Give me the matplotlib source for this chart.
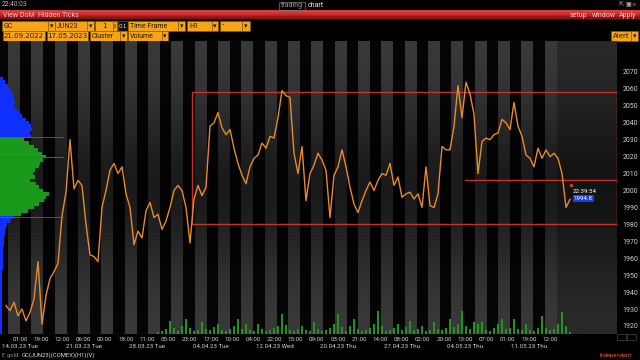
import matplotlib.pyplot as plt
import numpy as np
from matplotlib.patches import Rectangle
import matplotlib.transforms as mtransforms

plt.rcParams['font.family'] = ['Roboto', 'DejaVu Sans']

price = [1932, 1929, 1934, 1926, 1930, 1923, 1928, 1936, 1958, 1921,
         1938, 1948, 1952, 1957, 1985, 1999, 2030, 2001, 2006, 2003,
         1980, 1962, 1961, 1958, 1990, 2000, 2012, 2016, 2010, 2014,
         1998, 1990, 1968, 1976, 1972, 1988, 1993, 1984, 1986, 1977,
         1982, 1990, 2000, 2003, 2000, 1990, 1969, 1995, 2003, 1997,
         2002, 2038, 2040, 2046, 2037, 2033, 2036, 2025, 2016, 2009,
         2004, 2014, 2019, 2021, 2028, 2025, 2032, 2031, 2043, 2059,
         2056, 2055, 2022, 2010, 2026, 1994, 2010, 2015, 2022, 2018,
         2012, 1984, 2009, 2014, 2024, 2014, 2002, 1992, 1987, 1994,
         2000, 2005, 2000, 2006, 2010, 2009, 2016, 2003, 2008, 1996,
         1998, 1999, 1995, 1998, 1990, 2014, 1991, 1990, 1998, 2026,
         2024, 2024, 2038, 2062, 2043, 2064, 2057, 2045, 2010, 2029,
         2031, 2030, 2033, 2034, 2042, 2040, 2036, 2052, 2038, 2032,
         2021, 2019, 2014, 2025, 2019, 2024, 2020, 2022, 2019, 2010,
         1990, 1994.8]

volume = [0] * 38 + [
    2, 3, 5, 13, 6, 3, 8, 15, 6, 3, 4, 12, 5, 4, 7, 10, 4, 3, 5, 8,
    15, 5, 10, 4, 3, 10, 5, 3, 4, 6, 8, 20, 9, 4, 3, 5, 8, 4, 3, 12,
    5, 3, 4, 6, 10, 20, 7, 3, 8, 15, 5, 3, 4, 6, 10, 23, 8, 3, 4, 6,
    10, 4, 7, 13, 4, 5, 8, 3, 4, 12, 5, 4, 6, 15, 7, 10, 23, 8, 5, 12,
    10, 12, 4, 3, 6, 10, 15, 5, 6, 15, 5, 4, 10, 4, 3, 6, 18, 6, 4, 5,
    10, 22, 8, 2]

time_labels = ["01:00", "19:00", "12:00", "06:00", "00:00", "18:00", "11:00",
               "05:00", "23:00", "17:00", "10:00", "04:00", "22:00", "15:00",
               "09:00", "03:00", "21:00", "14:00", "08:00", "02:00", "20:00",
               "13:00", "07:00", "01:00", "19:00", "12:00"]
date_labels = ["14.03.23 Tue", "21.03.23 Tue", "28.03.23 Tue", "04.04.23 Tue",
               "12.04.23 Wed", "20.04.23 Thu", "27.04.23 Thu", "04.05.23 Thu",
               "11.05.23 Thu"]

# volume profile (price level -> width), top to bottom
profile_levels = np.arange(2066, 1915, -2)
profile_vol = [3, 5, 8, 10, 12, 13, 14, 15, 14, 17,
               20, 22, 26, 29, 31, 32, 30, 31, 24, 29,
               34, 38, 42, 46, 43, 40, 39, 35, 33, 35,
               30, 36, 39, 43, 49, 46, 44, 39, 34, 28,
               21, 13, 10, 7, 6, 5, 5, 4, 4, 4,
               3, 3, 3, 3, 3, 3, 3, 2, 2, 2,
               2, 2, 2, 2, 2, 2, 2, 2, 2, 2,
               2, 2, 2, 2, 2, 2]
va_high, poc, va_low = 2031.6, 2020.0, 1984.4

box_low, box_high = 1980.2, 2058.2
level_mid = 2006.2
last_price = 1994.8

# shaded sessions (bar index start)
session_starts = [0.5, 6.25, 12.25, 18, 23.75, 29.75, 35.5, 41.25, 47.25, 53,
                  58.75, 64.75, 70.5, 76.25, 82.25, 88, 93.75, 99.75, 105.5,
                  111.25, 117.25, 123, 128.75, 134.75]

ORANGE = '#f7a516'
XMIN, XMAX = -1.5, 152.75
YMIN, YMAX = 1915.25, 2088.3

fig = plt.figure(figsize=(6.4, 3.6), dpi=100, facecolor='black')

# ---------- chart ----------
ax = fig.add_axes([0, 26 / 360, 617 / 640, 293 / 360], facecolor='#050505')
vax = ax.twinx()
pax = ax.twiny()
x = np.arange(len(price))
ax.set_xlim(XMIN, XMAX)
ax.set_ylim(YMIN, YMAX)

for s in session_starts:
    ax.axvspan(s, s + 3, color='#3a3a3a', lw=0, zorder=0)
ax.axvspan(137.75, XMAX, color='#2a2a2a', lw=0, zorder=0)

# darker band in the middle of the pane
t = np.linspace(0, 1, 200)
shade = np.zeros((200, 1, 4))
shade[:, 0, 3] = 0.55 * np.exp(-((t - 0.5) / 0.28) ** 2)
ax.imshow(shade, extent=[XMIN, XMAX, YMIN, YMAX], aspect='auto',
          origin='lower', zorder=0.5)
ax.set_xlim(XMIN, XMAX)
ax.set_ylim(YMIN, YMAX)

ax.add_patch(Rectangle((46.5, box_low), XMAX - 46.5, box_high - box_low,
                       fill=False, ec='#c8302c', lw=1.0, zorder=2))
ax.plot([114.75, XMAX], [level_mid, level_mid], color='#c8302c', lw=1.0, zorder=2)
ax.plot(x, price, color='#e8892b', lw=1.0, zorder=3)

ax.plot(x[-1] + 0.3, 2003, 'o', ms=1.5, color='#e03030', zorder=4)
ax.text(x[-1] + 0.7, 1999.5, "22:39:54", color='white', fontsize=4.4,
        va='center', ha='left', zorder=5)
ax.text(x[-1] + 0.9, 1995.3, f"{last_price}", color='white', fontsize=4.4,
        va='center', ha='left', zorder=5,
        bbox=dict(boxstyle='square,pad=0.15', fc='#1c3fd6', ec='none'))

ax.yaxis.tick_right()
ax.set_yticks(np.arange(1920, 2071, 10))
ax.tick_params(axis='y', length=0, pad=4, labelsize=5, labelcolor='#cfcfcf',
               left=False, labelleft=False, right=True, labelright=True)
ticks = [3.5 + 5.3 * k for k in range(len(time_labels))]
ax.set_xticks(ticks)
ax.set_xticklabels(time_labels)
ax.tick_params(axis='x', length=0, pad=2, labelsize=4.4, labelcolor='#d0d0d0')
trans = mtransforms.blended_transform_factory(ax.transData, ax.transAxes)
for k, lab in enumerate(date_labels):
    ax.text(ticks[3 * k], -0.041, lab, transform=trans, ha='center', va='center',
            fontsize=4.4, color='#d0d0d0')
for sp in ax.spines.values():
    sp.set_visible(False)

# volume at the bottom
vax.set_ylim(0, 293)
vax.bar(x[:len(volume)], volume, width=0.7, color='#1f951f', lw=0)
vax.axhline(0.5, color='#1c8c1c', lw=0.8)
vax.set_yticks([])
for sp in vax.spines.values():
    sp.set_visible(False)

# volume profile on the left
pax.set_xlim(0, 617)
cols = ['#1a9a1a' if va_low <= p <= va_high else '#1030ff' for p in profile_levels]
pax.barh(profile_levels, profile_vol, height=2, color=cols, lw=0)
pax.plot([0, 63], [va_high, va_high], color='#707070', lw=0.5)
pax.plot([0, 63], [va_low, va_low], color='#707070', lw=0.5)
pax.plot([0, 63], [poc, poc], color='#c03030', lw=0.7)
pax.set_xticks([])
for sp in pax.spines.values():
    sp.set_visible(False)

# ---------- window chrome ----------
ui = fig.add_axes([0, 0, 1, 1], facecolor='none', zorder=-1)
red = np.array([[0.85, 0.25, 0.25], [0.78, 0.16, 0.17], [0.55, 0.08, 0.08]])
ui.imshow(red[:, None, :], extent=[0, 640, 19.5, 11], aspect='auto',
          interpolation='bilinear')
ui.set_xlim(0, 640)
ui.set_ylim(360, 0)
ui.axis('off')

ui.text(2, 5, "22:40:03", color='#b8b8b8', fontsize=4.8, va='center')
ui.add_patch(Rectangle((279, 1.5), 26, 8, fill=False, ec='#777777', lw=0.5))
ui.text(292, 5.5, "trading", color='#9a9a9a', fontsize=5, va='center', ha='center')
ui.text(308, 5.5, "chart", color='#e8e8e8', fontsize=5, va='center')
ui.text(619, 5, "⇱", color='#bbbbbb', fontsize=4.5, va='center', family='DejaVu Sans')
ui.text(625, 5, "▣", color='#bbbbbb', fontsize=4.5, va='center', family='DejaVu Sans')
ui.text(632, 5, "×", color='#e04040', fontsize=6, va='center')

for txt, xx in [("View DoM", 3), ("Hidden Ticks", 38), ("setup", 570),
                ("window", 592), ("Apply", 619)]:
    ui.text(xx, 15.5, txt, color='#f6c2c2', fontsize=5, va='center')


def box(x0, x1, y0, y1, txt, align='left', fc=ORANGE, tc='#1a1a1a', fs=5):
    ui.add_patch(Rectangle((x0, y0), x1 - x0, y1 - y0, fc=fc, ec='#8a5a00', lw=0.4))
    if align == 'left':
        ui.text(x0 + 2, (y0 + y1) / 2 + 0.3, txt, color=tc, fontsize=fs,
                va='center', ha='left')
    else:
        ui.text((x0 + x1) / 2, (y0 + y1) / 2 + 0.3, txt, color=tc, fontsize=fs,
                va='center', ha='center', family='DejaVu Sans')


r2 = (21, 30.5)
box(2, 48, *r2, "GC")
box(48, 55, *r2, "▾", 'center')
box(55, 87, *r2, "JUN23")
box(87, 94, *r2, "▾", 'center')
box(95, 113, *r2, "1", 'center')
box(113, 117, *r2, "↕", 'center', fs=3.5)
box(117.5, 127.5, *r2, "0.1", 'center', fc='#111111', tc='#e0e0e0', fs=3.8)
box(128, 178, *r2, "Time Frame")
box(178, 185, *r2, "▾", 'center')
box(187, 212, *r2, "H1")
box(212, 218, *r2, "▾", 'center')
box(220, 242, *r2, "-")
box(242, 250, *r2, "▾", 'center')

r3 = (31, 40.5)
box(3, 45, *r3, "21.09.2022", 'center')
box(47, 88, *r3, "17.05.2023", 'center')
box(90, 120, *r3, "Cluster")
box(120, 127, *r3, "▾", 'center')
box(128, 162, *r3, "Volume")
box(162, 168, *r3, "▾", 'center')
box(611, 631, *r3, "Alert", 'center')
box(631, 638, *r3, "▾", 'center')

ui.add_patch(Rectangle((605, 318), 10, 8, fill=False, ec='#555555', lw=0.4, ls=':'))
ui.add_patch(Rectangle((617, 334), 9, 6, fill=False, ec='#555555', lw=0.4))
ui.add_patch(Rectangle((627, 334), 9, 6, fill=False, ec='#555555', lw=0.4))

ui.text(2, 355.5, "E gold:", color='#8a8a8a', fontsize=4.2, va='center')
ui.text(22, 355.5, "GC(JUN23)(COMEX)(H1)(V)", color='#e0e0e0', fontsize=4.2, va='center')
ui.text(632, 356, "Independent", color='#e06030', fontsize=4.2, va='center', ha='right')

fig.savefig("out.png", dpi=100, facecolor='black')
